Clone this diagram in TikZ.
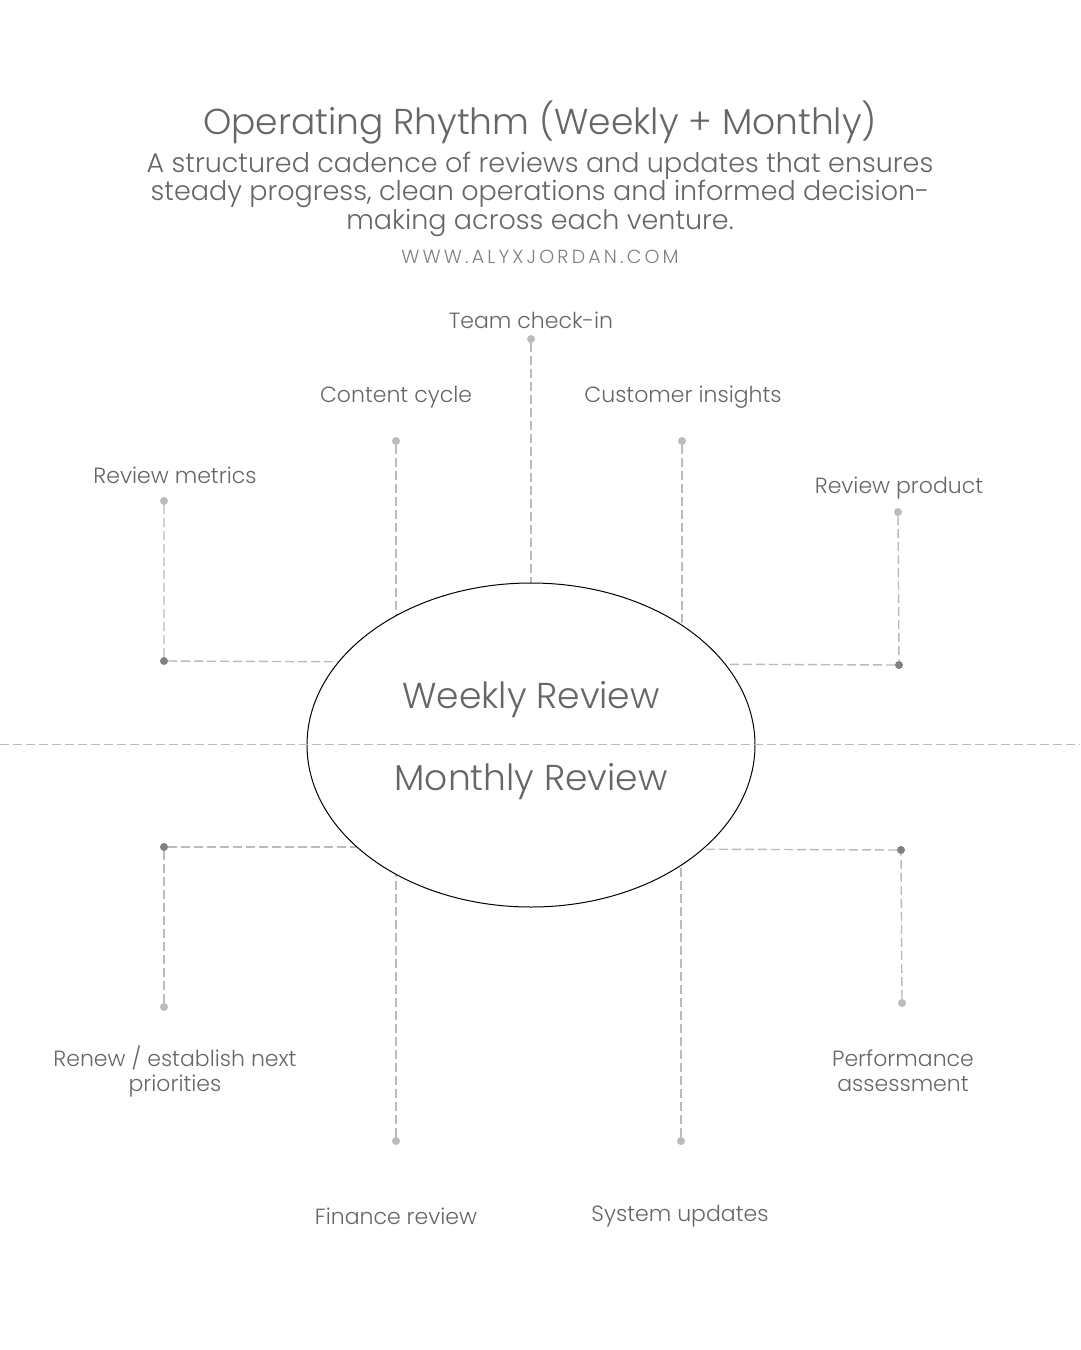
\documentclass[tikz,border=0pt]{standalone}
\usetikzlibrary{shapes.geometric}
\usepackage{fontspec}
\setmainfont{Poppins}[UprightFont={* Light}]
\definecolor{ln}{HTML}{BBBBBB}
\definecolor{txt}{HTML}{666666}
\begin{document}
\begin{tikzpicture}[x=1pt,y=-1pt,
  conn/.style={draw=ln,line width=1.4pt,dash pattern=on 9pt off 4pt},
  ldot/.style={circle,fill=ln,inner sep=0pt,minimum size=8pt},
  ddot/.style={circle,fill=gray,inner sep=0pt,minimum size=8pt},
  lab/.style={font=\fontsize{22}{25}\selectfont,text=txt,align=center}]
\useasboundingbox[fill=white] (0,0) rectangle (1080,1350);
\node[font=\fontsize{36}{40}\selectfont,text=txt] (title) at (540,123) {Operating Rhythm (Weekly + Monthly)};
\node[font=\fontsize{27}{26}\selectfont,text=txt,align=center] (sub) at (540,194) {A structured cadence of reviews and updates that ensures\\steady progress, clean operations and informed decision-\\making across each venture.};
\node[font=\fontsize{19}{20}\selectfont,text=gray] (url) at (540,257) {W\,W\,W\,.\,A\,L\,Y\,X\,J\,O\,R\,D\,A\,N\,.\,C\,O\,M};
\coordinate (L) at (0,744); \coordinate (R) at (1080,744);
\coordinate (c) at (531,745);
% top
\node[ldot] (d1) at (531,339) {}; \coordinate (e1) at (531,700);
\node[ldot] (d2) at (396,441) {}; \coordinate (e2) at (396,700);
\node[ldot] (d3) at (682,441) {}; \coordinate (e3) at (682,700);
\node[ldot] (d4) at (164,501) {}; \node[ddot] (k4) at (164,661) {}; \coordinate (e4) at (400,662);
\node[ldot] (d5) at (898,512) {}; \node[ddot] (k5) at (899,665) {}; \coordinate (e5) at (660,664);
% bottom
\node[ldot] (d6) at (164,1007) {}; \node[ddot] (k6) at (164,847) {}; \coordinate (e6) at (400,847);
\node[ldot] (d7) at (396,1141) {}; \coordinate (e7) at (396,790);
\node[ldot] (d8) at (681,1141) {}; \coordinate (e8) at (681,790);
\node[ldot] (d9) at (902,1003) {}; \node[ddot] (k9) at (901,850) {}; \coordinate (e9) at (660,849);
\draw[conn] (d1) -- (e1); \draw[conn] (d2) -- (e2); \draw[conn] (d3) -- (e3);
\draw[conn] (d4) -- (k4) -- (e4); \draw[conn] (d5) -- (k5) -- (e5);
\draw[conn] (d6) -- (k6) -- (e6); \draw[conn] (d7) -- (e7); \draw[conn] (d8) -- (e8);
\draw[conn] (d9) -- (k9) -- (e9);
\node[draw=black,line width=1pt,fill=white,ellipse,inner sep=0pt,minimum width=448pt,minimum height=324pt] (ell) at (c) {};
\draw[conn,line width=1pt] (L) -- (R);
\node[font=\fontsize{36}{40}\selectfont,text=txt] (wk) at (531,700) {Weekly Review};
\node[font=\fontsize{36}{40}\selectfont,text=txt] (mo) at (531,782) {Monthly Review};
\node[lab] (t1) at (531,320) {Team check-in};
\node[lab] (t2) at (396,397) {Content cycle};
\node[lab] (t3) at (683,397) {Customer insights};
\node[lab] (t4) at (175,475) {Review metrics};
\node[lab] (t5) at (899,488) {Review product};
\node[lab] (t6) at (175,1071) {Renew / establish next\\priorities};
\node[lab] (t7) at (396,1216) {Finance review};
\node[lab] (t8) at (680,1216) {System updates};
\node[lab] (t9) at (903,1071) {Performance\\assessment};
\end{tikzpicture}
\end{document}
